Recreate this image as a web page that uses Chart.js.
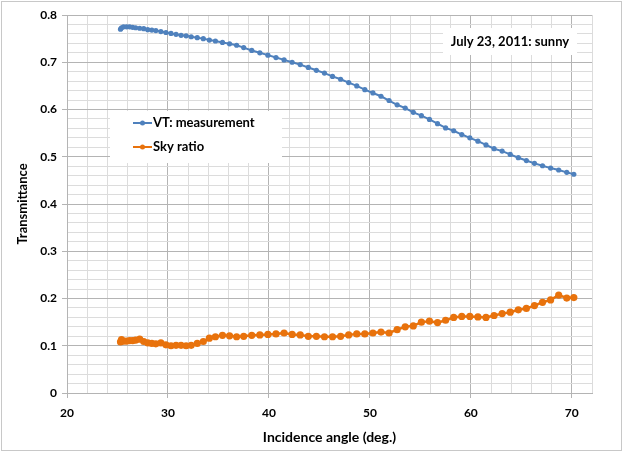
<!DOCTYPE html>
<html>
<head>
<meta charset="utf-8">
<script src="https://cdn.jsdelivr.net/npm/chart.js@4.4.1/dist/chart.umd.min.js"></script>
<style>
  html, body { margin: 0; padding: 0; background: #ffffff; }
  #wrap { width: 626px; height: 453px; position: relative; }
  canvas { display: block; }
</style>
</head>
<body>
<div id="wrap"><canvas id="c" width="626" height="453"></canvas></div>
<script>
// Incidence angle (deg.)
const angles = [25.3, 25.4, 25.6, 25.9, 26.2, 26.5, 26.8, 27.2, 27.6, 28.0, 28.4, 28.8, 29.3, 29.8,
  30.3, 30.8, 31.3, 31.8, 32.3, 32.9, 33.5, 34.1, 34.7, 35.4, 36.1, 36.8, 37.5, 38.3, 39.1, 39.9,
  40.7, 41.5, 42.3, 43.1, 43.9, 44.7, 45.5, 46.3, 47.1, 47.9, 48.7, 49.5, 50.3, 51.1, 51.9, 52.7,
  53.5, 54.3, 55.1, 55.9, 56.7, 57.5, 58.3, 59.1, 59.9, 60.7, 61.5, 62.3, 63.1, 63.9, 64.7, 65.5,
  66.3, 67.1, 67.9, 68.7, 69.5, 70.2];

// VT: measurement
const vtMeasurement = [0.770, 0.773, 0.775, 0.775, 0.775, 0.774, 0.773, 0.772, 0.771, 0.769, 0.768, 0.767, 0.765, 0.763,
  0.761, 0.759, 0.757, 0.756, 0.754, 0.752, 0.750, 0.747, 0.745, 0.742, 0.739, 0.736, 0.731, 0.725, 0.720, 0.715,
  0.710, 0.705, 0.700, 0.695, 0.689, 0.683, 0.677, 0.670, 0.664, 0.657, 0.650, 0.642, 0.635, 0.628, 0.619, 0.610,
  0.603, 0.594, 0.587, 0.579, 0.570, 0.561, 0.555, 0.547, 0.540, 0.533, 0.525, 0.517, 0.512, 0.505, 0.498, 0.492,
  0.486, 0.481, 0.476, 0.472, 0.467, 0.463];

// Sky ratio
const skyRatio = [0.108, 0.113, 0.110, 0.110, 0.111, 0.111, 0.112, 0.114, 0.109, 0.106, 0.105, 0.104, 0.106, 0.102,
  0.100, 0.101, 0.101, 0.100, 0.101, 0.105, 0.109, 0.116, 0.119, 0.122, 0.121, 0.119, 0.120, 0.122, 0.123, 0.124,
  0.125, 0.127, 0.124, 0.123, 0.120, 0.120, 0.119, 0.119, 0.120, 0.123, 0.125, 0.125, 0.127, 0.129, 0.127, 0.134,
  0.140, 0.142, 0.150, 0.152, 0.149, 0.154, 0.160, 0.162, 0.162, 0.161, 0.160, 0.164, 0.168, 0.171, 0.176, 0.179,
  0.185, 0.192, 0.197, 0.207, 0.201, 0.202];

const xTickLabels = [20, 30, 40, 50, 60, 70];
const yTickLabels = [0, 0.1, 0.2, 0.3, 0.4, 0.5, 0.6, 0.7, 0.8];
const seriesNames = ['VT: measurement', 'Sky ratio'];
const annotationText = 'July 23, 2011: sunny';

const BLUE = '#4f81bd';
const ORANGE = '#e8720c';
const FONT = 'Lato, "Open Sans", "DejaVu Sans", sans-serif';

function isIn(list, v) { return list.some(t => Math.abs(t - v) < 1e-6); }

const pts = (ys) => angles.map((a, i) => ({ x: a, y: ys[i] }));

const bgPlugin = {
  id: 'bg',
  beforeDraw(chart) {
    const ctx = chart.ctx;
    ctx.save();
    ctx.fillStyle = '#ffffff';
    ctx.fillRect(0, 0, chart.width, chart.height);
    ctx.restore();
  },
  afterDraw(chart) {
    const ctx = chart.ctx;
    const area = chart.chartArea;
    ctx.save();
    // outer border
    ctx.strokeStyle = '#c8c8c8';
    ctx.lineWidth = 1;
    ctx.strokeRect(1.5, 1.5, chart.width - 6, chart.height - 4);

    // legend box
    const lx = area.left + 43, ly = area.top + 96, lw = 172, lh = 52;
    ctx.fillStyle = '#ffffff';
    ctx.fillRect(lx, ly, lw, lh);
    ctx.font = 'bold 13px ' + FONT;
    ctx.textBaseline = 'middle';
    ctx.textAlign = 'left';
    chart.data.datasets.forEach((ds, i) => {
      const y = ly + 12 + i * 24;
      ctx.strokeStyle = ds.borderColor;
      ctx.lineWidth = 2;
      ctx.beginPath();
      ctx.moveTo(lx + 23, y);
      ctx.lineTo(lx + 42, y);
      ctx.stroke();
      ctx.fillStyle = ds.borderColor;
      ctx.beginPath();
      ctx.arc(lx + 32.5, y, 2.5, 0, Math.PI * 2);
      ctx.fill();
      ctx.fillStyle = '#000000';
      ctx.fillText(ds.label, lx + 43, y);
    });

    // annotation box
    const ax = area.left + 376, ay = area.top + 13, aw = 134, ah = 27;
    ctx.fillStyle = '#ffffff';
    ctx.fillRect(ax, ay, aw, ah);
    ctx.fillStyle = '#000000';
    ctx.textAlign = 'center';
    ctx.fillText(annotationText, ax + aw / 2, ay + ah / 2);
    ctx.restore();
  }
};

new Chart(document.getElementById('c'), {
  type: 'scatter',
  data: {
    datasets: [
      {
        label: seriesNames[0],
        data: pts(vtMeasurement),
        showLine: true,
        borderColor: BLUE,
        backgroundColor: BLUE,
        borderWidth: 2,
        pointRadius: 2.6,
        pointBorderWidth: 0,
        pointHoverRadius: 2.6,
        tension: 0
      },
      {
        label: seriesNames[1],
        data: pts(skyRatio),
        showLine: true,
        borderColor: ORANGE,
        backgroundColor: ORANGE,
        borderWidth: 2.5,
        pointRadius: 3.6,
        pointBorderWidth: 0,
        pointHoverRadius: 3.6,
        tension: 0
      }
    ]
  },
  options: {
    responsive: false,
    animation: false,
    devicePixelRatio: 1,
    layout: { padding: { left: 12, right: 34, top: 15, bottom: 4 } },
    plugins: {
      legend: { display: false },
      tooltip: { enabled: false }
    },
    scales: {
      x: {
        type: 'linear',
        min: 20,
        max: 72,
        afterFit(s) { s.height = 56; },
        afterBuildTicks(s) {
          const t = [];
          for (let v = 20; v <= 72 + 1e-9; v += 2) t.push({ value: v });
          s.ticks = t;
        },
        grid: {
          color: c => isIn(xTickLabels, c.tick.value) ? '#b4b4b4' : '#dcdcdc',
          tickColor: c => isIn(xTickLabels, c.tick.value) ? '#b4b4b4' : 'rgba(0,0,0,0)',
          tickLength: 5,
          lineWidth: 1
        },
        border: { color: '#b4b4b4' },
        ticks: {
          autoSkip: false,
          maxRotation: 0,
          padding: 8,
          color: '#000000',
          font: { family: FONT, size: 12, weight: 'bold' },
          callback: v => isIn(xTickLabels, v) ? String(v) : ''
        },
        title: {
          display: true,
          text: 'Incidence angle (deg.)',
          color: '#000000',
          font: { family: FONT, size: 14, weight: 'bold' },
          padding: { top: 4, bottom: 3 }
        }
      },
      y: {
        type: 'linear',
        min: 0,
        max: 0.8,
        afterFit(s) { s.width = 55; },
        afterBuildTicks(s) {
          const t = [];
          for (let i = 0; i <= 40; i++) t.push({ value: i * 0.02 });
          s.ticks = t;
        },
        grid: {
          color: c => isIn(yTickLabels, c.tick.value) ? '#b4b4b4' : '#dcdcdc',
          tickColor: c => isIn(yTickLabels, c.tick.value) ? '#b4b4b4' : 'rgba(0,0,0,0)',
          tickLength: 5,
          lineWidth: 1
        },
        border: { color: '#b4b4b4' },
        ticks: {
          autoSkip: false,
          padding: 5,
          color: '#000000',
          font: { family: FONT, size: 12, weight: 'bold' },
          callback: v => {
            const m = yTickLabels.find(t => Math.abs(t - v) < 1e-6);
            return m === undefined ? '' : String(m);
          }
        },
        title: {
          display: true,
          text: 'Transmittance',
          color: '#000000',
          font: { family: FONT, size: 13, weight: 'bold' },
          padding: { top: 3, bottom: 4 }
        }
      }
    }
  },
  plugins: [bgPlugin]
});
</script>
</body>
</html>
